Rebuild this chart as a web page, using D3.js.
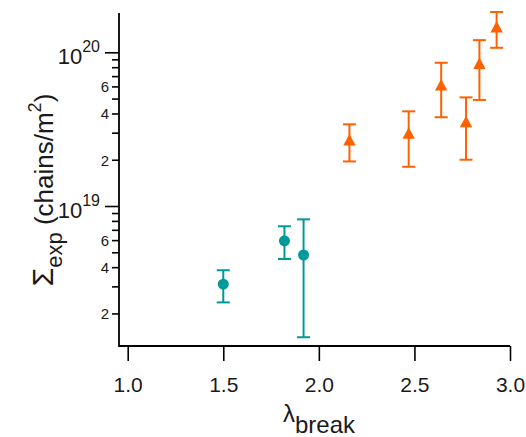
<!DOCTYPE html>
<html>
<head>
<meta charset="utf-8">
<script src="https://cdn.jsdelivr.net/npm/d3@7"></script>
<style>
  html, body { margin: 0; padding: 0; background: #fff; }
  svg { display: block; font-family: "Liberation Sans", Arial, sans-serif; }
</style>
</head>
<body>
<svg id="chart" width="526" height="437"></svg>
<script>
// ---- data ----
const tealX  = [1.50, 1.82, 1.92];
const tealY  = [3.10e18, 5.94e18, 4.80e18];
const tealHi = [3.82e18, 7.38e18, 8.19e18];
const tealLo = [2.36e18, 4.52e18, 1.40e18];

const orangeX  = [2.16, 2.47, 2.64, 2.77, 2.84, 2.93];
const orangeY  = [2.69e19, 2.97e19, 6.12e19, 3.53e19, 8.47e19, 1.46e20];
const orangeHi = [3.40e19, 4.13e19, 8.55e19, 5.09e19, 1.20e20, 1.83e20];
const orangeLo = [1.95e19, 1.80e19, 3.78e19, 2.00e19, 4.90e19, 1.07e20];

const xTicks = [1.0, 1.5, 2.0, 2.5, 3.0];
const yMajor = [1e19, 1e20];
const yMajorExp = ["19", "20"];
const yMinorLabeled = [2, 4, 6];

// ---- layout ----
const svg = d3.select("#chart");
const pLeft = 119, pRight = 510, pTop = 13, pBottom = 346;
const x = d3.scaleLinear().domain([0.9545, 3.0]).range([pLeft, pRight]);
const y = d3.scaleLog().domain([1.228e18, 1.802e20]).range([pBottom, pTop]);

const teal = "#00999a", orange = "#ff6000";

// y tick values (decade minors)
const yTickVals = [];
[18, 19].forEach(e => {
  for (let m = 1; m <= 9; m++) {
    const v = m * Math.pow(10, e);
    if (v >= y.domain()[0] && v <= y.domain()[1]) yTickVals.push(v);
  }
});
yTickVals.push(1e20);

// ---- x axis ----
const xAxis = d3.axisBottom(x).tickValues(xTicks).tickSize(15).tickFormat(d3.format(".1f"));
const gx = svg.append("g").attr("transform", `translate(0,${pBottom})`).call(xAxis);
gx.select(".domain").remove();
gx.selectAll(".tick line").attr("stroke", "#000").attr("stroke-width", 1.6);
gx.selectAll(".tick text").attr("font-size", 21).attr("fill", "#1a1a1a")
  .attr("font-family", "Liberation Sans, Arial, sans-serif").attr("dy", null).attr("y", 46);

// ---- y axis ----
const isMajor = v => yMajor.some(m => Math.abs(v / m - 1) < 1e-6);
const mant = v => Math.round(v / Math.pow(10, Math.floor(Math.log10(v) + 1e-9)));
const yAxis = d3.axisLeft(y).tickValues(yTickVals).tickFormat(() => "");
const gy = svg.append("g").attr("transform", `translate(${pLeft},0)`).call(yAxis);
gy.select(".domain").remove();
gy.selectAll(".tick line")
  .attr("x2", d => isMajor(d) ? -14 : -7)
  .attr("stroke", "#000").attr("stroke-width", 1.6);
gy.selectAll(".tick text").remove();
gy.selectAll(".tick").each(function(d) {
  const g = d3.select(this);
  if (isMajor(d)) {
    const i = yMajor.findIndex(m => Math.abs(d / m - 1) < 1e-6);
    const t = g.append("text").attr("text-anchor", "end").attr("fill", "#1a1a1a")
      .attr("x", -19).attr("y", 11);
    t.append("tspan").attr("font-size", 22).text("10");
    t.append("tspan").attr("font-size", 16).attr("dy", -12).text(yMajorExp[i]);
  } else if (yMinorLabeled.includes(mant(d))) {
    g.append("text").attr("text-anchor", "end").attr("fill", "#1a1a1a")
      .attr("font-size", 15).attr("x", -10).attr("y", 5.5).text(mant(d));
  }
});

// axis lines
svg.append("path").attr("d", `M${pLeft},${pTop}V${pBottom}H${pRight}`)
  .attr("fill", "none").attr("stroke", "#000").attr("stroke-width", 1.8);

// ---- error bars & markers ----
function errBars(xs, lo, hi, color) {
  const g = svg.append("g").attr("stroke", color).attr("stroke-width", 2).attr("fill", "none");
  xs.forEach((xv, i) => {
    const cx = x(xv);
    g.append("line").attr("x1", cx).attr("x2", cx).attr("y1", y(hi[i])).attr("y2", y(lo[i]));
    g.append("line").attr("x1", cx - 6.5).attr("x2", cx + 6.5).attr("y1", y(hi[i])).attr("y2", y(hi[i]));
    g.append("line").attr("x1", cx - 6.5).attr("x2", cx + 6.5).attr("y1", y(lo[i])).attr("y2", y(lo[i]));
  });
}
errBars(tealX, tealLo, tealHi, teal);
errBars(orangeX, orangeLo, orangeHi, orange);

svg.append("g").selectAll("circle").data(tealX).join("circle")
  .attr("cx", d => x(d)).attr("cy", (d, i) => y(tealY[i])).attr("r", 5.5).attr("fill", teal);

svg.append("g").selectAll("path.tri").data(orangeX).join("path").attr("class", "tri")
  .attr("d", (d, i) => {
    const cx = x(d), cy = y(orangeY[i]);
    return `M${cx},${cy - 6}L${cx + 6.2},${cy + 5.5}L${cx - 6.2},${cy + 5.5}Z`;
  })
  .attr("fill", orange);

// ---- axis titles ----
const xt = svg.append("text").attr("x", 283).attr("y", 422).attr("fill", "#1a1a1a");
xt.append("tspan").attr("font-size", 24).text("λ");
xt.append("tspan").attr("font-size", 24).attr("dy", 11).text("break");

const yt = svg.append("text").attr("transform", "translate(53,190) rotate(-90)")
  .attr("text-anchor", "middle").attr("fill", "#1a1a1a").style("white-space", "pre");
yt.append("tspan").attr("font-size", 30).text("Σ");
yt.append("tspan").attr("font-size", 22).attr("dy", 9).text("exp");
yt.append("tspan").attr("font-size", 26).attr("dy", -9).text("\u00A0(chains/m");
yt.append("tspan").attr("font-size", 18).attr("dy", -12).text("2");
yt.append("tspan").attr("font-size", 26).attr("dy", 12).text(")");
</script>
</body>
</html>
